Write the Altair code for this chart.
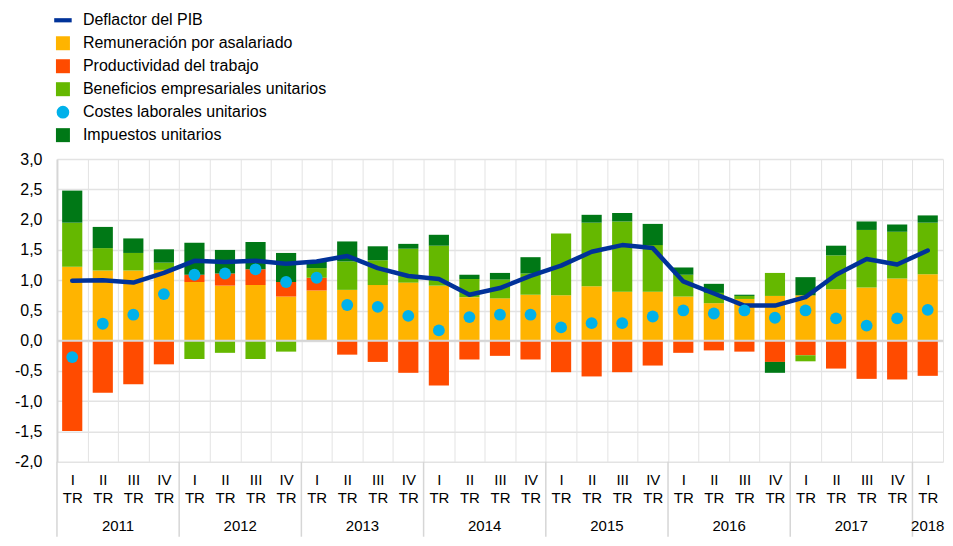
import altair as alt
import pandas as pd

years = ["2011", "2012", "2013", "2014", "2015", "2016", "2017"]
roman = ["I", "II", "III", "IV"]
quarters = [f"{y}-{r}" for y in years for r in roman] + ["2018-I"]

rem = [1.22, 1.16, 1.16, 1.17, 0.97, 0.91, 0.92, 0.73, 0.83, 0.84, 0.92, 0.96,
       0.91, 0.72, 0.70, 0.76, 0.75, 0.90, 0.81, 0.81, 0.73, 0.62, 0.69, 0.74,
       0.75, 0.85, 0.88, 1.03, 1.10]
prod = [-1.49, -0.86, -0.72, -0.39, 0.12, 0.20, 0.26, 0.24, 0.21, -0.23, -0.35, -0.53,
        -0.74, -0.31, -0.25, -0.31, -0.52, -0.59, -0.52, -0.41, -0.20, -0.16, -0.18, -0.35,
        -0.24, -0.46, -0.63, -0.64, -0.58]
ben = [0.73, 0.37, 0.29, 0.12, -0.30, -0.20, -0.30, -0.18, 0.16, 0.47, 0.41, 0.56,
       0.66, 0.30, 0.31, 0.35, 1.02, 1.05, 1.16, 0.77, 0.36, 0.17, 0.05, 0.38,
       -0.10, 0.56, 0.95, 0.77, 0.85]
imp = [0.53, 0.35, 0.24, 0.22, 0.53, 0.39, 0.45, 0.48, 0.11, 0.33, 0.23, 0.08,
       0.18, 0.07, 0.11, 0.27, 0.00, 0.13, 0.14, 0.35, 0.12, 0.15, 0.02, -0.18,
       0.30, 0.16, 0.14, 0.12, 0.12]
clu = [-0.27, 0.28, 0.43, 0.77, 1.09, 1.11, 1.18, 0.97, 1.04, 0.59, 0.56, 0.41,
       0.17, 0.39, 0.43, 0.43, 0.22, 0.29, 0.29, 0.40, 0.50, 0.45, 0.50, 0.38,
       0.50, 0.37, 0.25, 0.37, 0.51]
defl = [0.99, 1.00, 0.96, 1.12, 1.32, 1.30, 1.32, 1.27, 1.31, 1.40, 1.20, 1.07,
        1.02, 0.76, 0.87, 1.07, 1.24, 1.47, 1.58, 1.53, 0.98, 0.78, 0.58, 0.58,
        0.72, 1.09, 1.35, 1.26, 1.49]

legend_names = ["Deflactor del PIB", "Remuneración por asalariado", "Productividad del trabajo",
                "Beneficios empresariales unitarios", "Costes laborales unitarios", "Impuestos unitarios"]
legend_colors = ["#003299", "#FFB400", "#FF4B00", "#65B800", "#00B1EA", "#007816"]

bar_series = [("Remuneración por asalariado", rem), ("Productividad del trabajo", prod),
              ("Beneficios empresariales unitarios", ben), ("Impuestos unitarios", imp)]
rows = []
for k, (name, vals) in enumerate(bar_series):
    for q, v in zip(quarters, vals):
        rows.append({"q": q, "serie": name, "v": v, "ord": k})
bars_df = pd.DataFrame(rows)
pts_df = pd.DataFrame({"q": quarters, "clu": clu, "defl": defl})
ysep_df = pd.DataFrame({"q": [f"{y}-I" for y in years] + ["2018-I"]})
ylab_df = pd.DataFrame({"q": [f"{y}-III" for y in years], "year": years})
ylab2_df = pd.DataFrame({"q": ["2018-I"], "year": ["2018"]})

W, H = 887, 303
FONT = "Liberation Sans"
xscale = alt.Scale(type="band", domain=quarters, paddingInner=0, paddingOuter=0)
yscale = alt.Scale(domain=[-2, 3], nice=False, zero=False)

xaxis = alt.Axis(title=None,
                 labelExpr="isString(datum.value) && indexof(datum.value, '-') > 0 ? [split(datum.value, '-')[1], 'TR'] : ''",
                 labelAngle=0, labelFontSize=15, labelLineHeight=18, labelPadding=11, labelBaseline="top",
                 ticks=False, domain=False, grid=True, tickBand="extent",
                 gridColor="#e3e3e3", gridWidth=1, labelColor="#000000", labelFont=FONT)
yaxis = alt.Axis(title=None, values=[-2, -1.5, -1, -0.5, 0, 0.5, 1, 1.5, 2, 2.5, 3],
                 labelExpr="(datum.value < 0 ? '-' : '') + replace(format(abs(datum.value), '.1f'), '.', ',')",
                 labelFontSize=16, labelPadding=15, ticks=False, domain=True,
                 domainColor="#d6d6d6", domainWidth=2, grid=True, gridColor="#e3e3e3",
                 gridWidth=1.5, labelColor="#000000", labelFont=FONT)

shape_expr = ("datum.value === 'Deflactor del PIB' ? 'M-1.25,-0.3H1.25V0.3H-1.25Z' : "
              "(datum.value === 'Costes laborales unitarios' ? 'circle' : 'square')")
size_expr = "datum.value === 'Costes laborales unitarios' ? 160 : 196"

legend = alt.Legend(title=None, orient="none", legendX=-2, legendY=-147, direction="vertical",
                    labelFontSize=16, labelFont=FONT, labelColor="#000000", labelOffset=12,
                    labelLimit=500, rowPadding=7, symbolType=alt.ExprRef(expr=shape_expr),
                    symbolSize=alt.ExprRef(expr=size_expr), symbolStrokeWidth=0,
                    symbolOpacity=1)

X = lambda **kw: alt.X("q:N", scale=xscale, axis=xaxis, sort=quarters, **kw)

bars = alt.Chart(bars_df).mark_bar(width=alt.RelativeBandSize(0.66)).encode(
    x=X(),
    y=alt.Y("v:Q", scale=yscale, axis=yaxis, stack="zero"),
    color=alt.Color("serie:N", scale=alt.Scale(domain=legend_names, range=legend_colors), legend=legend),
    order=alt.Order("ord:Q"),
)

zero = alt.Chart(pd.DataFrame({"z": [0]})).mark_rule(color="#d6d6d6", strokeWidth=2).encode(
    y=alt.Y("z:Q", scale=yscale, axis=yaxis))

line = alt.Chart(pts_df).mark_line(color="#003299", strokeWidth=4.5, strokeJoin="round", strokeCap="round").encode(
    x=X(),
    y=alt.Y("defl:Q", scale=yscale, axis=yaxis))

dots = alt.Chart(pts_df).mark_circle(color="#00B1EA", size=140, opacity=1).encode(
    x=X(),
    y=alt.Y("clu:Q", scale=yscale, axis=yaxis))

seps = alt.Chart(ysep_df).mark_rule(color="#d6d6d6", strokeWidth=1.5).encode(
    x=X(bandPosition=0),
    y=alt.value(H), y2=alt.value(H + 75))

ylabs = alt.Chart(ylab_df).mark_text(fontSize=15, font=FONT, color="#000000", baseline="middle").encode(
    x=X(bandPosition=0),
    y=alt.value(H + 64), text="year:N")

ylabs2 = alt.Chart(ylab2_df).mark_text(fontSize=15, font=FONT, color="#000000", baseline="middle").encode(
    x=X(bandPosition=0.5),
    y=alt.value(H + 64), text="year:N")

chart = alt.layer(bars, zero, line, dots, seps, ylabs, ylabs2).properties(
    width=W, height=H, padding={"left": 6, "top": 4, "right": 0, "bottom": 0}
).configure_view(stroke=None)

chart.save("out.html", embed_options={"renderer": "svg", "actions": False})
